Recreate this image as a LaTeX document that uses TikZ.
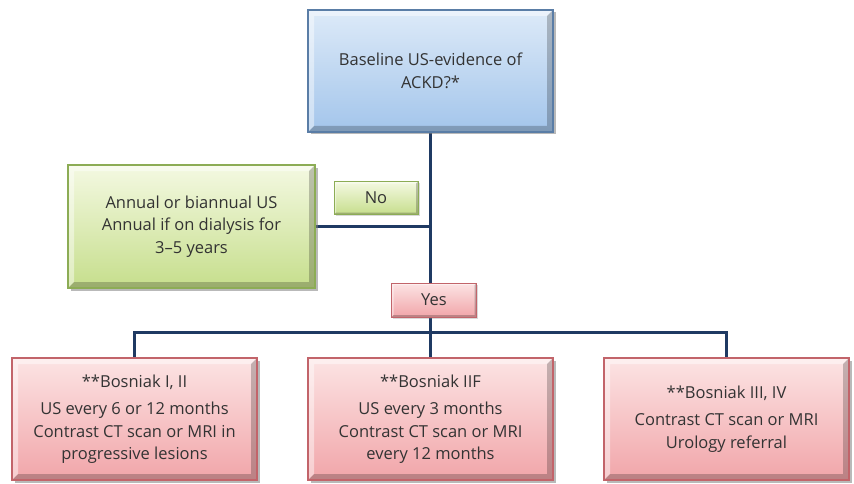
\documentclass[tikz,border=0pt]{standalone}
\usepackage{fontspec}
\setmainfont{Open Sans}
\usetikzlibrary{shadows,backgrounds}

\definecolor{linkblue}{HTML}{1F3A63}
\definecolor{blueTop}{HTML}{DDEAF8}
\definecolor{blueBot}{HTML}{A3C5EB}
\definecolor{blueLine}{HTML}{5A7DA6}
\definecolor{greenTop}{HTML}{F4F9E2}
\definecolor{greenBot}{HTML}{C6DE8C}
\definecolor{greenLine}{HTML}{8CAC55}
\definecolor{redTop}{HTML}{FCE4E4}
\definecolor{redBot}{HTML}{F1A5A9}
\definecolor{redLine}{HTML}{C2646A}

\begin{document}
\begin{tikzpicture}[x=1pt, y=-1pt,
    every node/.style = {font=\fontsize{16.5}{22.5}\selectfont, text=black!80,
      align=center, inner sep=2pt},
    % raised look: light top/left edge, dark right/bottom edge
    bevel/.style = {path picture={
      \fill[white, opacity=.45] (path picture bounding box.south west)
        -- (path picture bounding box.north west)
        -- (path picture bounding box.north east) -- ++(-#1,#1)
        -| ([shift={(#1,-#1)}]path picture bounding box.south west) -- cycle;
      \fill[black, opacity=.22] (path picture bounding box.north east)
        -- (path picture bounding box.south east)
        -- (path picture bounding box.south west) -- ++(#1,-#1)
        -| ([shift={(-#1,#1)}]path picture bounding box.north east) -- cycle;}},
    box/.style = {rectangle, draw, line width=1.2pt, bevel=6,
      drop shadow={shadow xshift=2.5pt, shadow yshift=-2.5pt, opacity=.55}},
    bigbox/.style = {box, minimum width=245pt, minimum height=122pt},
    tag/.style = {rectangle, draw, line width=.8pt, bevel=2,
      drop shadow={shadow xshift=1.5pt, shadow yshift=-1.5pt, opacity=.3}},
    bluebox/.style = {top color=blueTop, bottom color=blueBot, draw=blueLine},
    greenbox/.style = {top color=greenTop, bottom color=greenBot, draw=greenLine},
    redbox/.style = {top color=redTop, bottom color=redBot, draw=redLine},
    link/.style = {draw=linkblue, line width=2.6pt}]
  \useasboundingbox (0,0) rectangle (854,484);

  % question and the "no" branch
  \node[bigbox, bluebox] (baseline) at (430.5,71) {Baseline US-evidence of\\ACKD?*};
  \node[bigbox, greenbox, minimum width=247pt, minimum height=123pt]
    (annual) at (191.5,226.5) {Annual or biannual US\\Annual if on dialysis for\\3--5 years};
  \node[tag, greenbox, minimum width=84pt, minimum height=33pt] (no) at (376,198) {No};

  % the "yes" branch
  \node[tag, redbox, minimum width=85pt, minimum height=34pt] (yes) at (434,300) {Yes};
  \node[bigbox, redbox] (bosA) at (134.5,419)
    {**Bosniak I, II\\[5pt]US every 6 or 12 months\\Contrast CT scan or MRI in\\progressive lesions};
  \node[bigbox, redbox] (bosB) at (430.5,419)
    {**Bosniak IIF\\[5pt]US every 3 months\\Contrast CT scan or MRI\\every 12 months};
  \node[bigbox, redbox] (bosC) at (726.5,419)
    {**Bosniak III, IV\\[5pt]Contrast CT scan or MRI\\Urology referral};

  \begin{scope}[on background layer]
    \path[link] (baseline.south) -- (bosB.north);
    \path[link] (annual.east) -- (annual.east -| baseline.south);
    \path[link] (bosA.north) -- ++(0,-25) -| (bosC.north);
  \end{scope}
\end{tikzpicture}
\end{document}
